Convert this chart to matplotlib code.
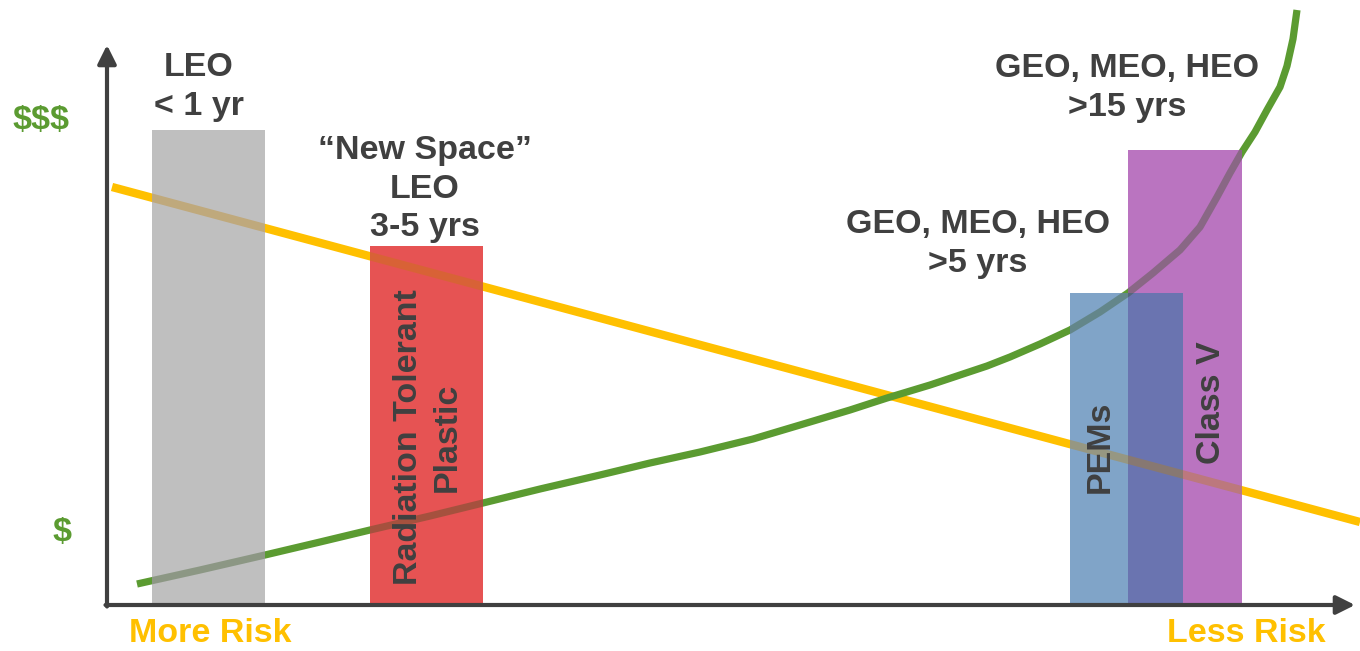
import numpy as np
import matplotlib.pyplot as plt
from matplotlib.patches import Rectangle
from matplotlib.path import Path

# canvas units: x to the right, y up from the bottom edge (figure is 1360 x 651)
W, H = 1360, 651
origin = (107, 46)
x_end, y_end = 1355, 606

# bars: left, right, top
bar_left = [152, 370, 1070, 1128]
bar_right = [265, 483, 1183, 1242]
bar_top = [521, 405, 358, 501]
bar_color = ['#BFBFBF', '#E65353', '#80A4C8', '#BA74C0']
overlap_color = '#6A74B0'

# yellow risk line (two ends)
risk_x = [112, 1360]
risk_y = [464, 129]

# green cost curve
cost_x = [137, 200, 265, 320, 370, 430, 483, 540, 600, 650, 700, 753, 800, 850, 887,
          930, 987, 1010, 1040, 1070, 1100, 1128, 1153, 1180, 1200, 1217, 1230, 1242,
          1255, 1267, 1280, 1287, 1293, 1297]
cost_y = [67, 81, 96, 109, 121, 135, 148, 162, 176, 188, 199, 212, 226, 241, 253,
          266, 285, 294, 307, 321, 339, 358, 378, 401, 424, 454, 478, 499,
          519, 541, 564, 585, 612, 641]

dark = '#404040'
green = '#5B9B31'
yellow = '#FFC000'

fig = plt.figure(figsize=(W / 100, H / 100), dpi=100)
ax = fig.add_axes([0, 0, 1, 1])
ax.set_xlim(0, W); ax.set_ylim(0, H)
ax.axis('off')

ax.plot(risk_x, risk_y, color=yellow, lw=6, solid_capstyle='butt', zorder=1)
ax.plot(cost_x, cost_y, color=green, lw=5.2, solid_capstyle='butt',
        solid_joinstyle='round', zorder=1)

base = origin[1]
paths = []
for l, r, t, c in zip(bar_left, bar_right, bar_top, bar_color):
    ax.add_patch(Rectangle((l, base), r - l, t - base, color=c, lw=0, zorder=2))
    paths.append(Path([(l, base), (r, base), (r, t), (l, t), (l, base)], closed=True))
# blue/purple overlap
ol, orr = max(bar_left[2], bar_left[3]), min(bar_right[2], bar_right[3])
ot = min(bar_top[2], bar_top[3])
ax.add_patch(Rectangle((ol, base), orr - ol, ot - base, color=overlap_color, lw=0, zorder=2.5))

# lines show faintly (and darker) through the bars
clip = Path.make_compound_path(*paths)
for xs, ys, c, w in [(risk_x, risk_y, '#C08000', 6), (cost_x, cost_y, '#2E4F18', 5.2)]:
    ln, = ax.plot(xs, ys, color=c, lw=w, alpha=0.35, solid_capstyle='butt',
                  solid_joinstyle='round', zorder=3)
    ln.set_clip_path(clip, ax.transData)

# axes arrows
arr = dict(arrowstyle='-|>', lw=3, color=dark, mutation_scale=28, shrinkA=0, shrinkB=0)
ax.annotate('', xy=(origin[0], y_end), xytext=(origin[0], origin[1] - 1.5), arrowprops=arr, zorder=4)
ax.annotate('', xy=(x_end, origin[1]), xytext=(origin[0] - 1.5, origin[1]), arrowprops=arr, zorder=4)

fam = ['Liberation Sans', 'DejaVu Sans']
kw = dict(family=fam, fontweight='bold', fontsize=24.5, ha='center', va='center', linespacing=1.3)

ax.text(199, H - 87, 'LEO\n< 1 yr', color=dark, **kw)
ax.text(425, H - 189, '\u201cNew Space\u201d\nLEO\n3-5 yrs', color=dark, **kw)
ax.text(978, H - 244, 'GEO, MEO, HEO\n>5 yrs', color=dark, **kw)
ax.text(1127, H - 88, 'GEO, MEO, HEO\n>15 yrs', color=dark, **kw)

ax.text(428, H - 437, 'Radiation Tolerant\nPlastic', color=dark, rotation=90, zorder=5, **kw)
ax.text(1100, H - 447, 'PEMs', color=dark, rotation=90, zorder=5, **kw)
ax.text(1211, H - 403, 'Class V', color=dark, rotation=90, zorder=5, **kw)

ax.text(41, H - 120, '$$$', color=green, **kw)
ax.text(62, H - 533, '$', color=green, **kw)
ax.text(210, H - 634, 'More Risk', color=yellow, **kw)
ax.text(1246, H - 634, 'Less Risk', color=yellow, **kw)

fig.savefig('out.png', dpi=100)
